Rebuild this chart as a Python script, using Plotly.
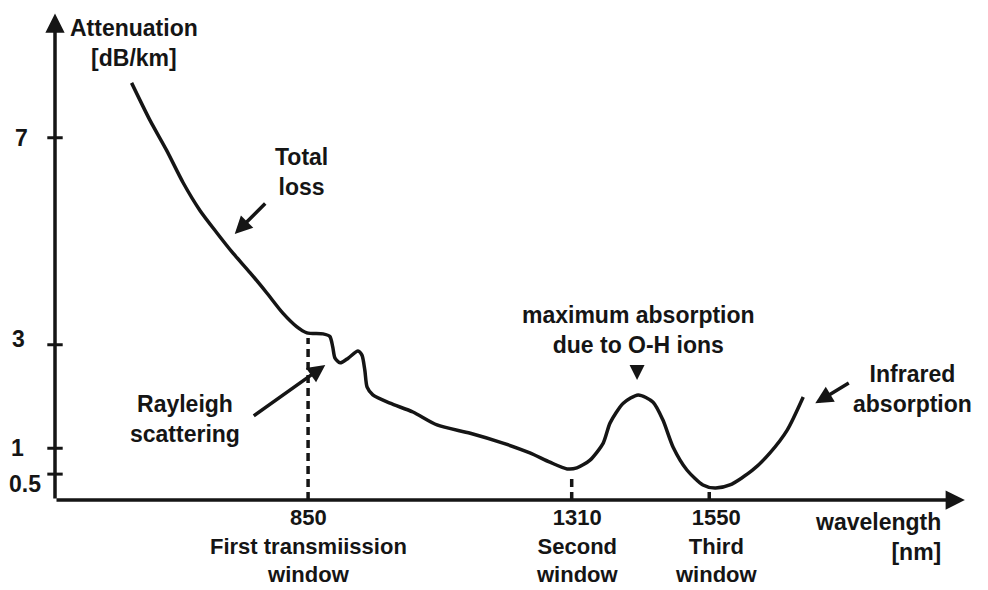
import plotly.graph_objects as go

INK = "#151515"
FONT = dict(family="Arial, Liberation Sans, sans-serif", size=23, color=INK, weight="bold")
FONT_SMALL = dict(FONT, size=22)

# total loss curve, wavelength [nm] vs attenuation [dB/km]
wavelength = [542, 574, 603, 632, 661, 691, 719, 749, 778, 806, 830, 848, 876, 888,
              893, 897, 906, 920, 937, 944, 949, 953, 963, 993, 1033, 1075, 1133,
              1190, 1237, 1272, 1302, 1319, 1342, 1365, 1377, 1400, 1426, 1452,
              1469, 1487, 1511, 1539, 1560, 1586, 1626, 1656, 1686, 1714]
attenuation = [8.06, 7.34, 6.76, 6.13, 5.60, 5.16, 4.77, 4.39, 4.00, 3.61, 3.35, 3.23,
               3.21, 3.16, 2.96, 2.74, 2.65, 2.74, 2.88, 2.80, 2.51, 2.18, 2.03, 1.87,
               1.70, 1.45, 1.29, 1.10, 0.91, 0.73, 0.60, 0.62, 0.77, 1.10, 1.49, 1.87,
               2.03, 1.89, 1.55, 1.02, 0.58, 0.29, 0.23, 0.29, 0.58, 0.91, 1.35, 1.99]

# transmission windows (dashed markers down to the axis)
window_nm = [850, 1310, 1550]
window_top = [3.13, 0.45, 0.2]
window_labels = ["850<br>First transmiission<br>window", "1310<br>Second<br>window",
                 "1550<br>Third<br>window"]
window_label_shift = [0, 6, 7]

y_ticks = [7, 3, 1, 0.5]
y_tick_labels = ["7", "3", "1", "0.5"]
y_label_x = [21, 18, 17, 25]
y_label_dy = [0, 6, 0, -10]

X0, X1 = 408.4, 2001.5
Y1 = 9.507

fig = go.Figure()

fig.add_trace(go.Scatter(
    x=wavelength, y=attenuation, mode="lines",
    line=dict(color=INK, width=3.5, shape="spline", smoothing=0.7),
    hoverinfo="skip",
))

for nm, top in zip(window_nm, window_top):
    fig.add_trace(go.Scatter(
        x=[nm, nm], y=[0, top], mode="lines",
        line=dict(color=INK, width=3.5, dash="8px,5px"),
        hoverinfo="skip",
    ))

# tick marks crossing the y axis
fig.add_trace(go.Scatter(
    x=[X0] * len(y_ticks), y=y_ticks, mode="markers", cliponaxis=False,
    marker=dict(symbol="line-ew-open", size=11, color=INK, line=dict(color=INK, width=3)),
    hoverinfo="skip",
))

arrow = dict(showarrow=True, arrowhead=2, arrowsize=1, arrowwidth=3.5, arrowcolor=INK, text="")

annotations = []
# axes with arrowheads
annotations.append(dict(x=1996, y=0, ax=X0, ay=0, xref="x", yref="y", axref="x", ayref="y",
                        **{**arrow, "arrowsize": 1.1}))
annotations.append(dict(x=X0, y=9.4, ax=X0, ay=0, xref="x", yref="y", axref="x", ayref="y",
                        **{**arrow, "arrowsize": 1.1}))

for v, t, px, dy in zip(y_ticks, y_tick_labels, y_label_x, y_label_dy):
    annotations.append(dict(x=0, y=v, xref="paper", yref="y", text=t, showarrow=False,
                            xanchor="center", yanchor="middle", xshift=px - 55, yshift=dy,
                            font=FONT))

for nm, lab, sh in zip(window_nm, window_labels, window_label_shift):
    annotations.append(dict(x=nm, y=0, xref="x", yref="y", text=lab, showarrow=False,
                            xanchor="center", yanchor="top", yshift=-3, xshift=sh,
                            font=FONT_SMALL, align="center"))

annotations += [
    dict(x=0, y=1, xref="paper", yref="paper", text="Attenuation<br>[dB/km]",
         showarrow=False, xanchor="center", yanchor="top", xshift=79, yshift=-5,
         font=FONT, align="center"),
    dict(x=1, y=0, xref="paper", yref="paper", text="wavelength<br>[nm]",
         showarrow=False, xanchor="right", yanchor="top", xshift=-25, yshift=-7,
         font=FONT, align="right"),
    dict(x=839, y=6.34, xref="x", yref="y", text="Total<br>loss", showarrow=False,
         xanchor="center", yanchor="middle", font=FONT, align="center"),
    dict(x=722, y=5.14, ax=32, ay=-32, xref="x", yref="y", **arrow),
    dict(x=635, y=1.57, xref="x", yref="y", text="Rayleigh<br>scattering", showarrow=False,
         xanchor="center", yanchor="middle", font=FONT, align="center"),
    dict(x=880, y=2.61, ax=-73, ay=52, xref="x", yref="y", **arrow),
    dict(x=1427, y=3.29, xref="x", yref="y", text="maximum absorption<br>due to O-H ions",
         showarrow=False, xanchor="center", yanchor="middle", font=FONT, align="center"),
    dict(x=1424, y=2.32, ax=0, ay=-15, xref="x", yref="y", **{**arrow, "arrowwidth": 3}),
    dict(x=1904, y=2.14, xref="x", yref="y", text="Infrared<br>absorption", showarrow=False,
         xanchor="center", yanchor="middle", font=FONT, align="center"),
    dict(x=1735, y=1.87, ax=35, ay=-21, xref="x", yref="y", **arrow),
]

# the page body adds an 8px margin, so the figure is 8px smaller than the window
fig.update_layout(
    width=980, height=582,
    margin=dict(l=47, r=20, t=0, b=90),
    paper_bgcolor="white", plot_bgcolor="white",
    showlegend=False,
    xaxis=dict(range=[X0, X1], visible=False),
    yaxis=dict(range=[0, Y1], visible=False),
    annotations=annotations,
)

fig.write_html("out.html")
